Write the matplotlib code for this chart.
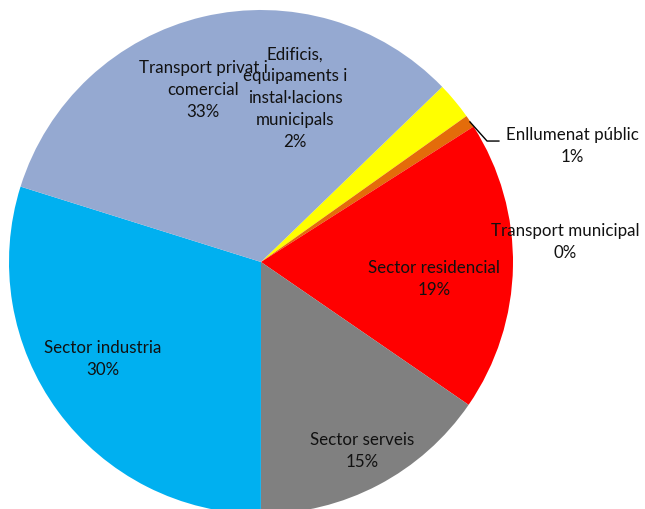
import matplotlib
matplotlib.use("Agg")
import matplotlib.pyplot as plt

# ── Data ─────────────────────────────────────────────────────────────────────
categories = [
    "Edificis,\nequipaments i\ninstal·lacions\nmunicipals",
    "Enllumenat públic",
    "Transport municipal",
    "Sector residencial",
    "Sector serveis",
    "Sector industria",
    "Transport privat i\ncomercial",
]
shares = [2.4, 0.8, 0.0, 18.6, 15.4, 29.8, 32.9]
colors = ["#FFFF00", "#E46C0A", "#4F81BD", "#FF0000", "#808080", "#00B0F0", "#95A9D1"]

# label centres in pie-radius units (placed by hand in the original)
label_pos = [(0.135, 0.651), (1.234, 0.460), (1.206, 0.079), (0.687, -0.067),
             (0.401, -0.750), (-0.627, -0.385), (-0.230, 0.683)]

plt.rcParams["font.family"] = ["Lato", "DejaVu Sans"]

fig = plt.figure(figsize=(6.45, 5.09), dpi=100)
ax = fig.add_axes([0, 0, 1, 1])

ax.pie(shares, colors=colors, startangle=44.03, counterclock=False,
       radius=1.0, center=(0, 0), wedgeprops=dict(linewidth=0))

total = sum(shares)
for name, val, (lx, ly) in zip(categories, shares, label_pos):
    ax.text(lx, ly, f"{name}\n{round(val / total * 100):.0f}%",
            ha="center", va="center", fontsize=12.2, linespacing=1.45,
            color="#111111")

# leader line for the small slice
ax.plot([0.829, 0.897, 0.944], [0.556, 0.480, 0.480], color="black", lw=1.0)

ax.set_xlim(-261 / 252, (645 - 261) / 252)
ax.set_ylim(-(509 - 262) / 252, 262 / 252)
ax.set_aspect("equal")
ax.axis("off")

fig.savefig("out.png", dpi=100)
